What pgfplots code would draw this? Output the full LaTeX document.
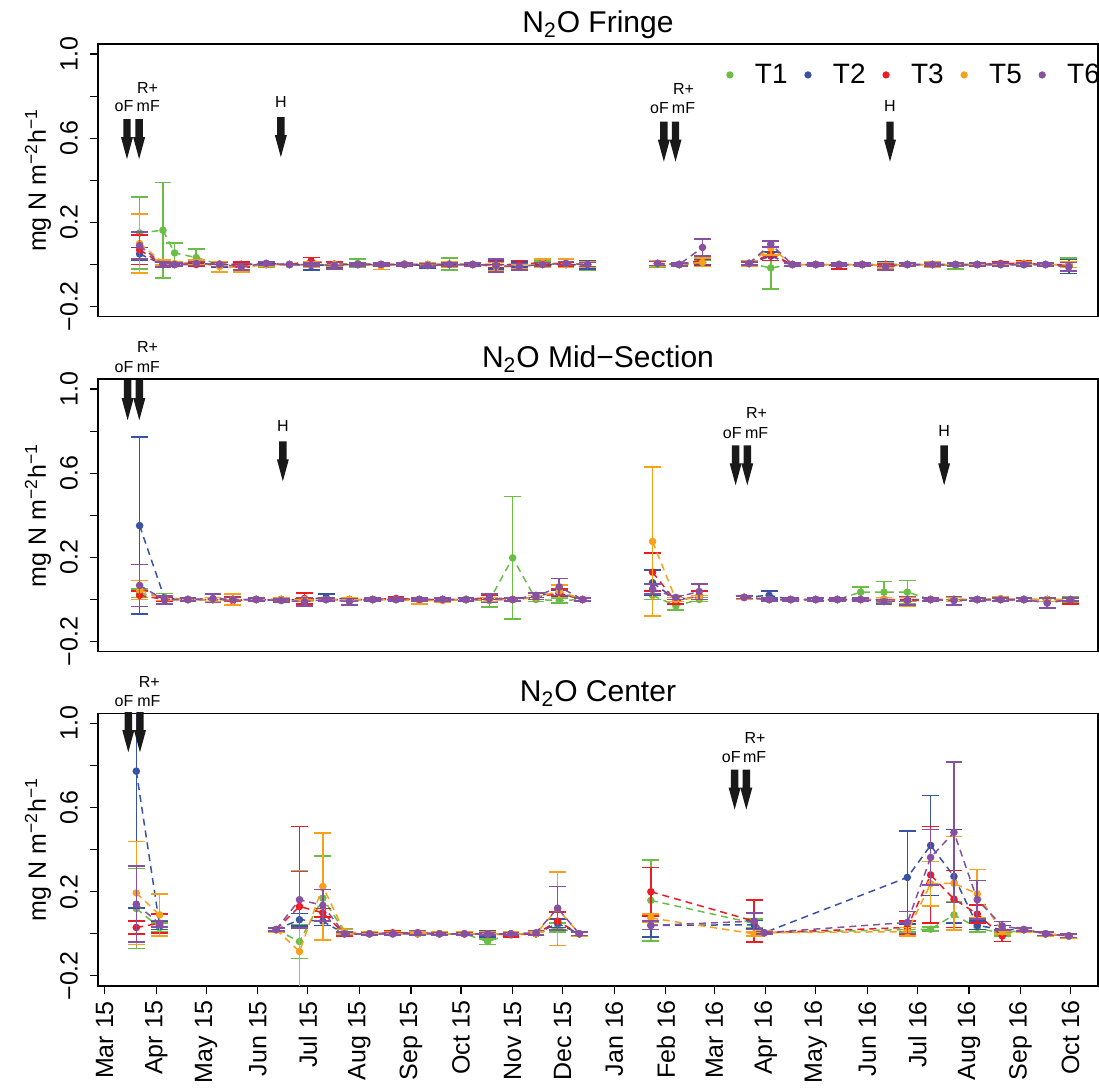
\documentclass[border=0pt]{standalone}
\usepackage{pgfplots}
\pgfplotsset{compat=1.18}
\usepackage{pgfplotstable}
\usepackage{fontspec}
\setmainfont{Liberation Sans}
\definecolor{cT1}{HTML}{6ABD45}
\definecolor{cT2}{HTML}{3953A4}
\definecolor{cT3}{HTML}{EC1C24}
\definecolor{cT5}{HTML}{F9A01B}
\definecolor{cT6}{HTML}{8751A3}

% columns: day since 1 Mar 2015; T1, T2, T3, T5, T6 means and errors
\pgfplotstableread{
x   a      ae     b      be     c      ce     d      de     f      fe
21  0.150  0.170  0.050  0.030  0.070  0.070  0.100  0.140  0.090  0.065
35  0.163  0.227  0.000  0.010  0.000  0.010  0.010  0.012  0.000  0.012
42  0.055  0.048  0.000  0.008  0.000  0.008  0.005  0.010  0.000  0.008
55  0.033  0.040  0.005  0.010  0.000  0.010  0.010  0.012  0.005  0.010
69  0.000  0.010  0.000  0.012  0.002  0.012  -0.010 0.025  0.000  0.010
82  0.000  0.012  0.000  0.012  0.000  0.012  -0.015 0.020  -0.010 0.015
97  0.000  0.012  0.005  0.010  0.000  0.010  0.000  0.010  0.005  0.008
111 0.000  0.000  0.000  0.000  0.000  0.000  0.000  0.000  0.000  0.000
124 0.000  0.010  -0.005 0.020  0.017  0.016  0.000  0.012  0.000  0.008
138 0.000  0.012  0.000  0.012  0.002  0.010  0.000  0.010  -0.005 0.015
152 0.005  0.020  0.000  0.008  0.000  0.010  0.000  0.010  0.000  0.008
166 0.000  0.010  0.000  0.010  0.000  0.010  -0.008 0.015  0.000  0.008
180 0.000  0.008  0.000  0.008  0.002  0.008  0.000  0.008  0.000  0.006
194 0.000  0.010  -0.005 0.012  0.000  0.010  0.000  0.010  -0.004 0.008
207 0.003  0.028  0.000  0.010  0.000  0.010  0.000  0.012  0.000  0.008
221 0.000  0.010  0.000  0.010  0.000  0.010  0.000  0.010  0.000  0.006
235 0.000  0.015  0.000  0.020  0.000  0.015  -0.010 0.020  -0.005 0.030
249 0.000  0.012  0.000  0.012  0.000  0.020  -0.010 0.012  -0.010 0.015
263 0.005  0.012  0.000  0.010  0.010  0.015  0.005  0.020  0.000  0.010
277 0.000  0.010  0.000  0.012  0.000  0.012  0.005  0.020  0.005  0.010
290 -0.005 0.020  0.000  0.020  0.000  0.012  0.000  0.012  0.000  0.010
310 nan    nan    nan    nan    nan    nan    nan    nan    nan    nan
332 0.000  0.015  0.005  0.015  0.005  0.015  0.005  0.015  0.005  0.010
345 0.000  0.008  0.000  0.008  0.000  0.008  0.000  0.008  0.000  0.006
359 0.005  0.015  0.010  0.015  0.020  0.020  0.010  0.020  0.081  0.040
372 nan    nan    nan    nan    nan    nan    nan    nan    nan    nan
387 0.005  0.012  0.005  0.010  0.005  0.010  0.005  0.012  0.005  0.008
400 -0.016 0.100  0.040  0.020  0.050  0.030  0.080  0.035  0.097  0.015
413 0.000  0.008  0.000  0.008  0.000  0.008  0.000  0.008  0.000  0.006
427 0.000  0.010  0.000  0.008  0.000  0.010  0.000  0.010  0.000  0.006
441 0.000  0.010  0.000  0.010  -0.005 0.015  0.000  0.010  0.000  0.008
455 0.000  0.008  0.000  0.008  0.000  0.008  0.000  0.008  0.000  0.006
469 0.000  0.010  0.000  0.012  0.000  0.010  -0.005 0.012  -0.010 0.015
482 0.000  0.008  0.000  0.008  0.000  0.008  0.000  0.010  0.000  0.006
497 0.000  0.010  0.000  0.010  0.000  0.010  0.000  0.015  0.000  0.008
511 -0.005 0.015  0.000  0.010  0.000  0.010  0.000  0.010  0.000  0.008
524 0.000  0.008  0.000  0.008  0.000  0.008  0.000  0.008  0.000  0.006
538 0.000  0.008  0.000  0.008  0.005  0.010  0.000  0.008  0.000  0.006
552 0.000  0.010  0.000  0.010  0.005  0.015  0.005  0.010  0.000  0.008
565 0.000  0.008  0.000  0.008  0.000  0.008  0.000  0.008  0.000  0.006
579 0.000  0.030  -0.010 0.033  0.000  0.015  0.000  0.015  -0.010 0.020
}\fringe

\pgfplotstableread{
x   a      ae     b      be     c      ce     d      de     f      fe
21  0.030  0.020  0.351  0.420  0.020  0.020  0.045  0.045  0.067  0.100
36  0.010  0.018  0.005  0.010  0.000  0.010  0.005  0.010  -0.002 0.020
50  0.000  0.008  0.000  0.008  0.000  0.008  0.000  0.008  0.000  0.006
65  0.000  0.010  0.000  0.010  0.000  0.010  0.000  0.010  0.005  0.020
77  0.000  0.010  0.000  0.010  -0.005 0.020  0.000  0.025  0.000  0.010
91  0.000  0.008  0.000  0.008  0.000  0.008  0.000  0.008  0.000  0.006
106 0.000  0.008  0.000  0.008  0.000  0.008  0.000  0.010  -0.005 0.008
120 -0.010 0.020  0.000  0.010  0.005  0.025  0.000  0.010  -0.010 0.020
133 0.000  0.010  0.010  0.015  0.000  0.010  0.000  0.010  0.000  0.008
147 0.000  0.010  0.000  0.010  0.000  0.010  0.000  0.010  -0.010 0.015
161 0.000  0.008  0.000  0.008  0.000  0.008  0.000  0.008  0.000  0.006
175 0.000  0.008  0.000  0.008  0.005  0.010  0.000  0.008  0.000  0.006
189 0.000  0.010  0.000  0.010  0.000  0.010  -0.005 0.015  0.000  0.008
203 0.000  0.008  0.000  0.008  0.000  0.008  -0.005 0.010  0.000  0.006
217 0.000  0.008  0.000  0.008  0.000  0.008  0.000  0.008  0.000  0.006
231 -0.005 0.030  0.000  0.010  0.010  0.010  0.000  0.010  0.005  0.020
245 0.198  0.292  0.000  0.008  0.000  0.008  0.000  0.008  0.000  0.006
259 0.000  0.010  0.020  0.010  0.010  0.010  0.010  0.010  0.015  0.015
273 -0.005 0.012  0.030  0.015  0.030  0.020  0.040  0.030  0.060  0.040
287 0.000  0.008  0.000  0.008  0.000  0.008  0.000  0.008  0.000  0.006
308 nan    nan    nan    nan    nan    nan    nan    nan    nan    nan
329 0.020  0.020  0.080  0.060  0.130  0.090  0.276  0.353  0.050  0.025
343 -0.030 0.020  0.000  0.010  -0.010 0.010  0.000  0.010  0.010  0.010
357 0.000  0.010  0.010  0.010  0.020  0.020  0.010  0.010  0.038  0.037
370 nan    nan    nan    nan    nan    nan    nan    nan    nan    nan
384 0.010  0.008  0.010  0.008  0.010  0.008  0.010  0.008  0.010  0.006
399 0.000  0.010  0.020  0.020  0.000  0.010  0.000  0.010  0.000  0.008
412 0.000  0.008  0.000  0.008  0.000  0.008  0.000  0.008  0.000  0.006
427 0.000  0.008  0.000  0.008  0.000  0.008  0.000  0.008  0.000  0.006
440 0.000  0.010  0.000  0.010  0.000  0.010  0.000  0.010  0.000  0.008
454 0.035  0.025  0.000  0.008  0.000  0.008  0.000  0.008  0.000  0.006
468 0.035  0.050  0.000  0.010  0.000  0.010  0.000  0.010  -0.010 0.010
482 0.035  0.055  0.000  0.010  0.000  0.010  -0.010 0.020  -0.005 0.020
496 0.000  0.008  0.000  0.008  0.000  0.008  0.000  0.008  0.000  0.006
510 0.000  0.010  0.000  0.010  0.000  0.010  0.000  0.010  -0.005 0.020
524 0.000  0.008  0.000  0.008  0.000  0.010  0.000  0.008  0.000  0.006
538 0.000  0.008  0.000  0.008  0.000  0.008  0.005  0.010  0.000  0.006
552 0.000  0.008  0.000  0.008  0.000  0.008  0.000  0.008  0.000  0.006
566 0.000  0.010  0.000  0.010  0.000  0.010  0.000  0.010  -0.017 0.023
580 0.000  0.015  0.000  0.010  -0.005 0.015  0.000  0.010  0.000  0.008
}\midsec

\pgfplotstableread{
x   a      ae     b      be     c      ce     d      de     f      fe
19  0.120  0.190  0.773  0.650  0.030  0.030  0.194  0.245  0.141  0.180
33  0.030  0.020  0.040  0.020  0.050  0.045  0.090  0.100  0.048  0.015
68  nan    nan    nan    nan    nan    nan    nan    nan    nan    nan
103 0.020  0.010  0.020  0.010  0.020  0.010  0.020  0.010  0.020  0.008
117 -0.037 0.080  0.067  0.030  0.130  0.380  -0.084 0.385  0.162  0.135
131 0.170  0.200  0.060  0.020  0.100  0.020  0.225  0.255  0.135  0.075
144 0.010  0.015  0.000  0.010  0.000  0.010  0.010  0.010  0.000  0.008
159 0.000  0.008  0.000  0.008  0.000  0.008  0.000  0.008  0.000  0.006
173 0.000  0.008  0.000  0.008  0.005  0.008  0.000  0.008  0.000  0.006
188 0.000  0.008  0.000  0.008  0.005  0.010  0.000  0.008  0.005  0.010
201 0.000  0.008  0.000  0.008  0.000  0.008  0.000  0.008  0.000  0.006
216 0.000  0.008  0.000  0.008  0.000  0.008  0.000  0.008  0.000  0.006
230 -0.037 0.013  0.000  0.015  0.000  0.008  0.000  0.008  0.000  0.006
244 0.000  0.008  0.000  0.008  -0.005 0.010  0.000  0.008  0.000  0.006
259 0.000  0.008  0.000  0.008  0.000  0.008  0.000  0.008  0.005  0.010
272 0.030  0.020  0.050  0.020  0.060  0.045  0.120  0.175  0.122  0.103
285 0.000  0.010  0.000  0.010  0.000  0.010  0.000  0.010  0.000  0.008
306 nan    nan    nan    nan    nan    nan    nan    nan    nan    nan
328 0.159  0.193  0.040  0.055  0.200  0.116  0.075  0.020  0.040  0.020
390 0.050  0.020  0.043  0.020  0.060  0.100  0.000  0.010  0.060  0.040
396 0.005  0.008  0.005  0.008  0.005  0.008  0.005  0.008  0.005  0.006
482 0.020  0.010  0.268  0.222  0.030  0.030  0.010  0.020  0.054  0.052
496 0.022  0.010  0.420  0.237  0.280  0.230  0.238  0.106  0.363  0.132
510 0.090  0.060  0.273  0.222  0.165  0.135  0.240  0.223  0.482  0.334
524 0.030  0.020  0.040  0.020  0.094  0.044  0.190  0.115  0.162  0.092
539 0.000  0.010  0.020  0.020  -0.010 0.027  0.010  0.010  0.038  0.020
552 0.020  0.010  0.020  0.010  0.020  0.010  0.020  0.010  0.020  0.008
565 0.000  0.010  0.000  0.010  0.000  0.010  0.000  0.010  0.000  0.008
579 -0.010 0.010  -0.010 0.010  -0.010 0.010  -0.010 0.010  -0.010 0.008
}\center

\pgfplotsset{
  panel/.style={
    scale only axis, width=500pt, height=136.35pt, anchor=south west,
    xmin=-4, xmax=596.5, ymin=-0.248, ymax=1.048,
    ytick={-0.2,0,0.2,0.4,0.6,0.8,1.0},
    yticklabels={−0.2,,0.2,,0.6,,1.0},
    ytick pos=left, xtick pos=bottom, tick align=outside, major tick length=4pt,
    tick style={black, line width=0.6pt}, axis line style={line width=0.7pt},
    yticklabel style={rotate=90, anchor=south, yshift=2.5pt, font=\fontsize{12.5}{14}\selectfont},
    xticklabel style={rotate=90, anchor=east, font=\fontsize{12.5}{14}\selectfont},
    clip mode=individual, unbounded coords=jump,
  },
  ser/.style={color=#1, dash pattern=on 3.5pt off 2.5pt, line width=0.75pt,
    mark=*, mark size=1.5pt, mark options={solid, fill=#1},
    error bars/.cd, y dir=both, y explicit,
    error bar style={solid, line width=0.8pt},
    error mark options={rotate=90, solid, mark size=4.2pt, line width=0.8pt}},
  legdot/.style={only marks, mark=*, mark size=1.6pt, color=#1, mark options={fill=#1}},
}
\newcommand{\allseries}[1]{%
  \addplot[ser=cT1] table[x=x, y=a, y error=ae] {#1};
  \addplot[ser=cT2] table[x=x, y=b, y error=be] {#1};
  \addplot[ser=cT3] table[x=x, y=c, y error=ce] {#1};
  \addplot[ser=cT5] table[x=x, y=d, y error=de] {#1};
  \addplot[ser=cT6] table[x=x, y=f, y error=fe] {#1};
}
\newcommand{\darr}[2]{\fill[black!90] (axis cs:#1,#2) -- ++(3pt,11pt) -- ++(-1.15pt,0pt) -- ++(0pt,9pt) -- ++(-3.7pt,0pt) -- ++(0pt,-9pt) -- ++(-1.15pt,0pt) -- cycle;}
\newcommand{\alab}[3]{\node[anchor=base, inner sep=0pt, font=\fontsize{8}{10}\selectfont] at (axis cs:#1,#2) {#3};}
\newcommand{\ptitle}[1]{\node[anchor=base, inner sep=0pt, font=\fontsize{15}{18}\selectfont] at (axis description cs:0.5,1) [yshift=5.7pt] {#1};}
\newcommand{\ylab}{\node[rotate=90, inner sep=0pt, font=\fontsize{12.5}{14}\selectfont] at (axis description cs:-0.06,0.5) {mg N m\textsuperscript{−2}h\textsuperscript{−1}};}

\begin{document}
\begin{tikzpicture}
\useasboundingbox (0,0) rectangle (549.5pt,-545pt);

% ---------- Fringe ----------
\begin{axis}[panel, at={(49pt,-158.35pt)}, xtick=\empty,
  legend columns=5,
  legend style={at={(axis cs:373.3,0.901)}, anchor=west, draw=none, fill=none,
    inner sep=0pt, font=\fontsize{14}{16}\selectfont,
    nodes={inner xsep=1.5pt},
    /tikz/every odd column/.append style={column sep=9.4pt},
    /tikz/every even column/.append style={column sep=7.1pt}},
  legend cell align=left]
\addlegendimage{legdot=cT1}\addlegendentry{T1}
\addlegendimage{legdot=cT2}\addlegendentry{T2}
\addlegendimage{legdot=cT3}\addlegendentry{T3}
\addlegendimage{legdot=cT5}\addlegendentry{T5}
\addlegendimage{legdot=cT6}\addlegendentry{T6}
\allseries{\fringe}
\darr{13.4}{0.501}\darr{20.7}{0.501}\darr{105.8}{0.51}
\darr{335.8}{0.489}\darr{342.8}{0.489}\darr{471.6}{0.489}
\alab{11.6}{0.728}{oF}\alab{26.2}{0.728}{mF}\alab{25.8}{0.814}{R+}\alab{105.8}{0.747}{H}
\alab{333.2}{0.716}{oF}\alab{347.6}{0.716}{mF}\alab{347.6}{0.806}{R+}\alab{471.6}{0.727}{H}
\ptitle{N\textsubscript{2}O Fringe}
\ylab
\end{axis}

% ---------- Mid-Section ----------
\begin{axis}[panel, at={(49pt,-325.85pt)}, xtick=\empty]
\allseries{\midsec}
\darr{13.8}{0.852}\darr{20.8}{0.852}\darr{107}{0.562}
\darr{378.9}{0.543}\darr{385.9}{0.543}\darr{504.1}{0.543}
\alab{11.6}{1.079}{oF}\alab{26.3}{1.079}{mF}\alab{25.8}{1.172}{R+}\alab{107}{0.797}{H}
\alab{376.9}{0.767}{oF}\alab{391.5}{0.767}{mF}\alab{391.5}{0.86}{R+}\alab{504.1}{0.774}{H}
\ptitle{N\textsubscript{2}O Mid−Section}
\ylab
\end{axis}

% ---------- Center ----------
\begin{axis}[panel, at={(49pt,-493pt)},
  xtick={0,31,61,92,122,153,184,214,245,275,306,337,366,397,427,458,488,519,550,580},
  xticklabels={Mar 15,Apr 15,May 15,Jun 15,Jul 15,Aug 15,Sep 15,Oct 15,Nov 15,Dec 15,Jan 16,Feb 16,Mar 16,Apr 16,May 16,Jun 16,Jul 16,Aug 16,Sep 16,Oct 16}]
\allseries{\center}
\darr{14.2}{0.863}\darr{21.2}{0.863}
\darr{378.3}{0.59}\darr{385.3}{0.59}
\alab{11.6}{1.079}{oF}\alab{26.6}{1.079}{mF}\alab{26.8}{1.172}{R+}
\alab{376.3}{0.813}{oF}\alab{390.3}{0.813}{mF}\alab{390.5}{0.905}{R+}
\ptitle{N\textsubscript{2}O Center}
\ylab
\end{axis}
\end{tikzpicture}
\end{document}
